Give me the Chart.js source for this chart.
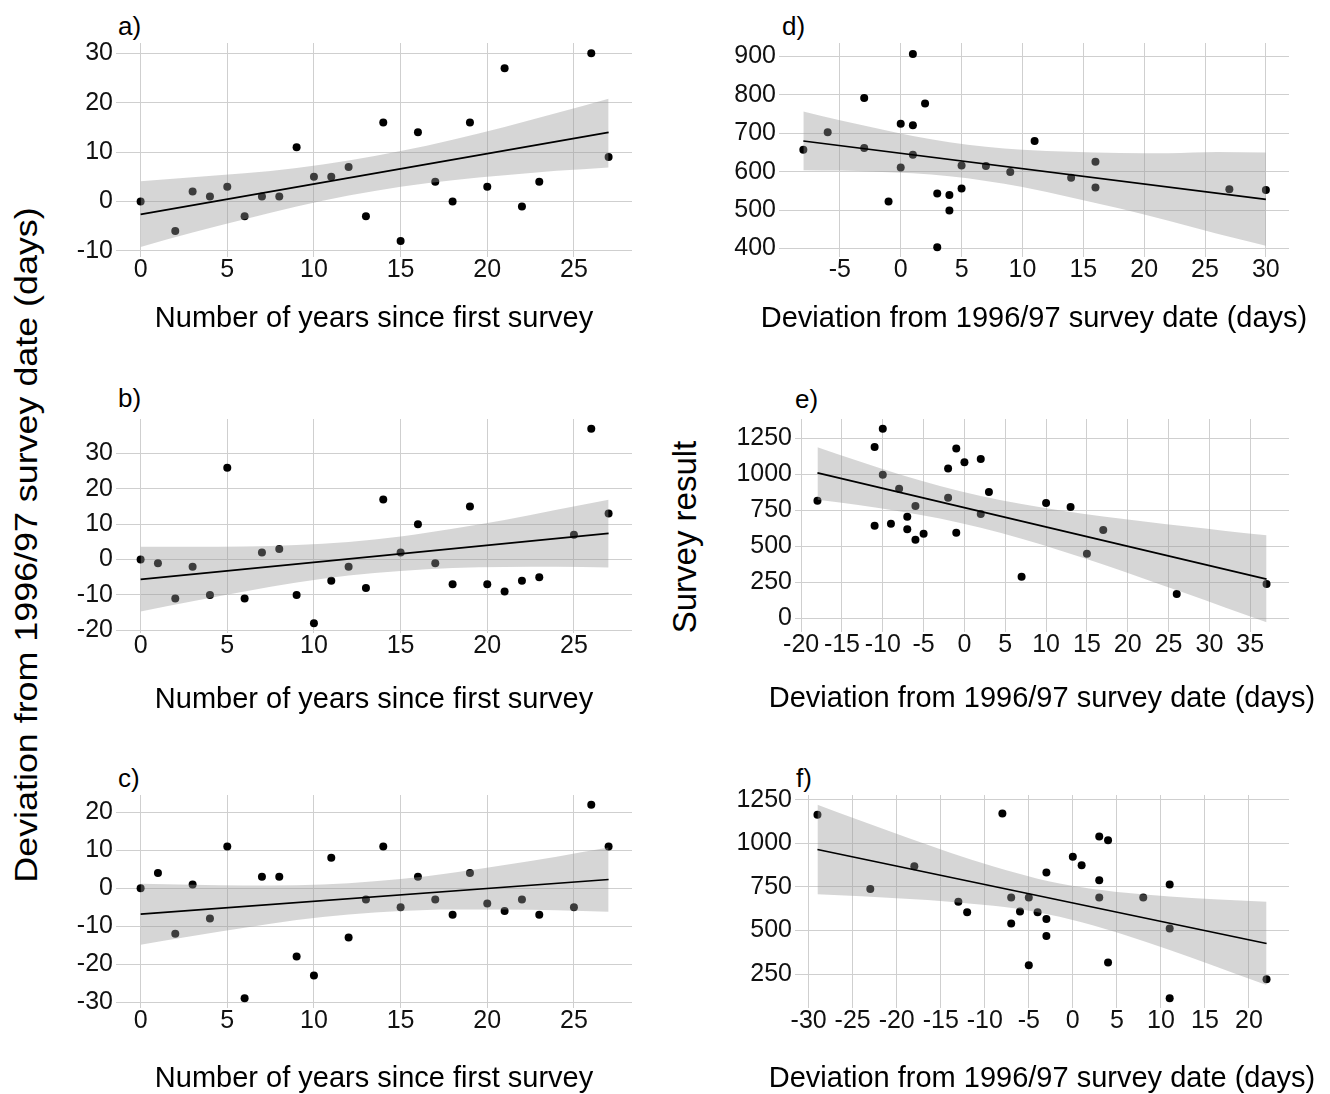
<!DOCTYPE html>
<html>
<head>
<meta charset="utf-8">
<script src="https://cdn.jsdelivr.net/npm/chart.js@4.4.1/dist/chart.umd.min.js"></script>
<style>
  body { margin: 0; background: #fff; }
  #fig { position: relative; width: 1330px; height: 1094px; overflow: hidden;
         font-family: "Liberation Sans", Arial, sans-serif; color: #000; }
  #fig canvas { position: absolute; }
  .lab { position: absolute; font-size: 26px; line-height: 26px; white-space: nowrap; }
  .ytitle { position: absolute; white-space: nowrap; text-align: center; }
</style>
</head>
<body>
<div id="fig">
  <div class="lab" style="left:118px; top:13px;">a)</div>
  <div class="lab" style="left:118px; top:385px;">b)</div>
  <div class="lab" style="left:118px; top:765px;">c)</div>
  <div class="lab" style="left:782px; top:13px;">d)</div>
  <div class="lab" style="left:795px; top:386px;">e)</div>
  <div class="lab" style="left:796px; top:765px;">f)</div>
  <div class="ytitle" style="font-size:32px; width:700px; height:40px; line-height:40px; left:-324px; top:525px; transform:rotate(-90deg) scaleX(1.12);">Deviation from 1996/97 survey date (days)</div>
  <div class="ytitle" style="font-size:33px; width:300px; height:40px; line-height:40px; left:535px; top:517px; transform:rotate(-90deg);">Survey result</div>
</div>
<script>
// a) years since first survey vs deviation (days)
const aYears = [0, 2, 3, 4, 5, 6, 7, 8, 9, 10, 11, 12, 13, 14, 15, 16, 17, 18, 19, 20, 21, 22, 23, 26, 27];
const aDev = [0, -6, 2, 1, 3, -3, 1, 1, 11, 5, 5, 7, -3, 16, -8, 14, 4, 0, 16, 3, 27, -1, 4, 30, 9];
const aBandX = [0, 3, 6, 9, 12, 15, 18, 21, 24, 27];
const aBandLow = [-9.2, -6.3, -3.6, -1.0, 1.2, 3.0, 4.3, 5.3, 6.2, 6.9];
const aBandHigh = [4.1, 4.9, 5.7, 6.8, 8.3, 10.2, 12.5, 15.1, 17.9, 20.8];
const aFitX = [0, 27];
const aFitY = [-2.6, 14.0];

// b)
const bYears = [0, 1, 2, 3, 4, 5, 6, 7, 8, 9, 10, 11, 12, 13, 14, 15, 16, 17, 18, 19, 20, 21, 22, 23, 25, 26, 27];
const bDev = [0, -1, -11, -2, -10, 26, -11, 2, 3, -10, -18, -6, -2, -8, 17, 2, 10, -1, -7, 15, -7, -9, -6, -5, 7, 37, 13];
const bBandX = [0, 3, 6, 9, 12, 15, 18, 21, 24, 27];
const bBandLow = [-14.7, -11.8, -9.0, -6.5, -4.5, -3.2, -2.4, -2.1, -2.0, -2.2];
const bBandHigh = [3.6, 3.6, 3.7, 4.1, 5.0, 6.5, 8.7, 11.2, 14.1, 16.9];
const bFitX = [0, 27];
const bFitY = [-5.6, 7.4];

// c)
const cYears = [0, 1, 2, 3, 4, 5, 6, 7, 8, 9, 10, 11, 12, 13, 14, 15, 16, 17, 18, 19, 20, 21, 22, 23, 25, 26, 27];
const cDev = [0, 4, -12, 1, -8, 11, -29, 3, 3, -18, -23, 8, -13, -3, 11, -5, 3, -3, -7, 4, -4, -6, -3, -7, -5, 22, 11];
const cBandX = [0, 3, 6, 9, 12, 15, 18, 21, 24, 27];
const cBandLow = [-14.9, -12.6, -10.4, -8.4, -6.9, -6.0, -5.6, -5.6, -5.8, -6.2];
const cBandHigh = [1.2, 0.9, 0.7, 0.8, 1.3, 2.4, 4.1, 6.1, 8.3, 10.7];
const cFitX = [0, 27];
const cFitY = [-6.8, 2.3];

// d) deviation from 1996/97 date vs survey result
const dDays = [-8, -6, -3, -3, -1, 0, 0, 1, 1, 1, 2, 3, 3, 4, 4, 5, 5, 7, 9, 11, 14, 16, 16, 27, 30];
const dResult = [657, 703, 792, 662, 522, 725, 611, 907, 721, 644, 778, 543, 403, 539, 499, 616, 556, 615, 599, 680, 584, 626, 559, 554, 552];
const dBandX = [-8, -5, -2, 1, 4, 7, 10, 14, 18, 22, 26, 30];
const dBandLow = [604, 603, 600, 596, 588, 576, 560, 533, 504, 472, 438, 407];
const dBandHigh = [757, 734, 713, 693, 677, 665, 657, 652, 649, 648, 651, 650];
const dFitX = [-8, 30];
const dFitY = [680, 528];

// e)
const eDays = [-18, -11, -11, -10, -10, -9, -8, -7, -7, -6, -6, -5, -2, -2, -1, -1, 0, 2, 2, 3, 7, 10, 13, 15, 17, 26, 37];
const eResult = [815, 1187, 641, 1315, 995, 655, 898, 704, 616, 778, 544, 586, 1039, 836, 1178, 593, 1081, 1104, 722, 875, 287, 799, 771, 447, 611, 167, 236];
const eBandX = [-18, -13, -8, -3, 2, 7, 12, 17, 22, 27, 32, 37];
const eBandLow = [822, 785, 742, 691, 627, 551, 464, 371, 273, 173, 72, -30];
const eBandHigh = [1185, 1090, 999, 917, 848, 791, 745, 705, 670, 637, 605, 574];
const eFitX = [-18, 37];
const eFitY = [1008, 270];

// f)
const fDays = [-29, -23, -18, -13, -12, -8, -7, -7, -6, -5, -5, -4, -3, -3, -3, 0, 1, 3, 3, 3, 4, 4, 8, 11, 11, 11, 22];
const fResult = [1164, 737, 868, 664, 605, 1170, 689, 540, 609, 689, 300, 605, 832, 565, 468, 922, 874, 1038, 788, 689, 1017, 317, 689, 763, 511, 111, 221];
const fBandX = [-29, -24, -19, -14, -9, -4, 1, 6, 11, 16, 22];
const fBandLow = [708, 696, 682, 665, 641, 604, 547, 473, 388, 298, 187];
const fBandHigh = [1221, 1127, 1036, 947, 866, 797, 748, 716, 695, 679, 664];
const fFitX = [-29, 22];
const fFitY = [964, 425];

// Tick labels
const yearTicks = [0, 5, 10, 15, 20, 25];
const aYTicks = [-10, 0, 10, 20, 30];
const bYTicks = [-20, -10, 0, 10, 20, 30];
const cYTicks = [-30, -20, -10, 0, 10, 20];
const dXTicks = [-5, 0, 5, 10, 15, 20, 25, 30];
const dYTicks = [400, 500, 600, 700, 800, 900];
const eXTicks = [-20, -15, -10, -5, 0, 5, 10, 15, 20, 25, 30, 35];
const eYTicks = [0, 250, 500, 750, 1000, 1250];
const fXTicks = [-30, -25, -20, -15, -10, -5, 0, 5, 10, 15, 20];
const fYTicks = [250, 500, 750, 1000, 1250];

const yearsTitle = "Number of years since first survey";
const daysTitle = "Deviation from 1996/97 survey date (days)";

const fontFamily = "'Liberation Sans', Arial, sans-serif";
Chart.defaults.font.family = fontFamily;
Chart.defaults.color = "#000";

const fig = document.querySelector("#fig");
const gridColor = "#cfcfcf";
const bandColor = "rgba(153,153,153,0.4)";
const yAxisW = 100;
const padTop = 8;

// x-axis title drawn centred under the plot, at full width (no squeezing)
const xTitlePlugin = {
  id: "xTitle",
  afterDraw(chart, args, opts) {
    const { ctx, chartArea } = chart;
    ctx.save();
    ctx.font = opts.size + "px " + fontFamily;
    ctx.fillStyle = "#000";
    ctx.textAlign = "center";
    ctx.textBaseline = "alphabetic";
    ctx.fillText(opts.text, (chartArea.left + chartArea.right) / 2, chartArea.bottom + opts.gap);
    ctx.restore();
  },
};

const toXY = (xs, ys) => xs.map((x, i) => ({ x: x, y: ys[i] }));
const plainTick = (v) => String(v);

// Build one panel; box is the plot area in page pixels
const makePanel = (p) => {
  const xAxisH = p.titleGap + 10;
  const canvas = document.createElement("canvas");
  const w = p.box.R - p.box.L + yAxisW + p.padRight;
  const h = p.box.B - p.box.T + padTop + xAxisH;
  canvas.width = w;
  canvas.height = h;
  canvas.style.left = (p.box.L - yAxisW) + "px";
  canvas.style.top = (p.box.T - padTop) + "px";
  canvas.style.width = w + "px";
  canvas.style.height = h + "px";
  fig.appendChild(canvas);

  new Chart(canvas, {
    type: "scatter",
    plugins: [xTitlePlugin],
    data: {
      datasets: [
        {
          data: toXY(p.fitX, p.fitY),
          showLine: true,
          borderColor: "#000",
          borderWidth: 1.7,
          pointRadius: 0,
          order: 0,
        },
        {
          data: toXY(p.bandX, p.bandHigh),
          showLine: true,
          borderColor: "rgba(0,0,0,0)",
          borderWidth: 0,
          pointRadius: 0,
          cubicInterpolationMode: "monotone",
          fill: "+1",
          backgroundColor: bandColor,
          order: 1,
        },
        {
          data: toXY(p.bandX, p.bandLow),
          showLine: true,
          borderColor: "rgba(0,0,0,0)",
          borderWidth: 0,
          pointRadius: 0,
          cubicInterpolationMode: "monotone",
          fill: false,
          order: 1,
        },
        {
          data: toXY(p.x, p.y),
          pointRadius: 4,
          pointBackgroundColor: "#000",
          pointBorderWidth: 0,
          order: 2,
        },
      ],
    },
    options: {
      responsive: false,
      animation: false,
      layout: { padding: { top: padTop, right: p.padRight, left: 0, bottom: 0 } },
      plugins: {
        legend: { display: false },
        tooltip: { enabled: false },
        xTitle: { text: p.xTitle, gap: p.titleGap, size: 29 },
      },
      scales: {
        x: {
          type: "linear",
          position: "bottom",
          min: p.xMin,
          max: p.xMax,
          afterBuildTicks: (s) => { s.ticks = p.xTicks.map((v) => ({ value: v })); },
          afterFit: (s) => { s.height = xAxisH; s.paddingLeft = 0; s.paddingRight = 0; },
          grid: { color: gridColor, lineWidth: 1, drawTicks: false },
          border: { display: false },
          ticks: { font: { size: 25, lineHeight: 1 }, color: "#111", padding: 1, maxRotation: 0, autoSkip: false, callback: plainTick },
        },
        y: {
          type: "linear",
          min: p.yMin,
          max: p.yMax,
          afterBuildTicks: (s) => { s.ticks = p.yTicks.map((v) => ({ value: v })); },
          afterFit: (s) => { s.width = yAxisW; s.paddingTop = 0; s.paddingBottom = 0; },
          grid: { color: gridColor, lineWidth: 1, drawTicks: false },
          border: { display: false },
          ticks: { font: { size: 25, lineHeight: 1 }, color: "#111", padding: 3, autoSkip: false, callback: plainTick },
        },
      },
    },
  });
};

makePanel({
  box: { L: 116, R: 632, T: 43, B: 257 }, titleGap: 70, padRight: 10,
  xMin: -1.42, xMax: 28.35, yMin: -11.25, yMax: 32.1,
  xTicks: yearTicks, yTicks: aYTicks, xTitle: yearsTitle,
  x: aYears, y: aDev, bandX: aBandX, bandLow: aBandLow, bandHigh: aBandHigh, fitX: aFitX, fitY: aFitY,
});
makePanel({
  box: { L: 116, R: 632, T: 419, B: 633 }, titleGap: 75, padRight: 10,
  xMin: -1.42, xMax: 28.35, yMin: -20.75, yMax: 39.75,
  xTicks: yearTicks, yTicks: bYTicks, xTitle: yearsTitle,
  x: bYears, y: bDev, bandX: bBandX, bandLow: bBandLow, bandHigh: bBandHigh, fitX: bFitX, fitY: bFitY,
});
makePanel({
  box: { L: 116, R: 632, T: 795, B: 1008 }, titleGap: 79, padRight: 10,
  xMin: -1.42, xMax: 28.35, yMin: -31.55, yMax: 24.55,
  xTicks: yearTicks, yTicks: cYTicks, xTitle: yearsTitle,
  x: cYears, y: cDev, bandX: cBandX, bandLow: cBandLow, bandHigh: cBandHigh, fitX: cFitX, fitY: cFitY,
});
makePanel({
  box: { L: 779, R: 1289, T: 43, B: 257 }, titleGap: 70, padRight: 34,
  xMin: -10, xMax: 31.9, yMin: 377.6, yMax: 935.4,
  xTicks: dXTicks, yTicks: dYTicks, xTitle: daysTitle,
  x: dDays, y: dResult, bandX: dBandX, bandLow: dBandLow, bandHigh: dBandHigh, fitX: dFitX, fitY: dFitY,
});
makePanel({
  box: { L: 795, R: 1289, T: 419, B: 632 }, titleGap: 75, padRight: 34,
  xMin: -20.75, xMax: 39.75, yMin: -97, yMax: 1382,
  xTicks: eXTicks, yTicks: eYTicks, xTitle: daysTitle,
  x: eDays, y: eResult, bandX: eBandX, bandLow: eBandLow, bandHigh: eBandHigh, fitX: eFitX, fitY: eFitY,
});
makePanel({
  box: { L: 795, R: 1289, T: 795, B: 1008 }, titleGap: 79, padRight: 34,
  xMin: -31.55, xMax: 24.55, yMin: 55.5, yMax: 1276.5,
  xTicks: fXTicks, yTicks: fYTicks, xTitle: daysTitle,
  x: fDays, y: fResult, bandX: fBandX, bandLow: fBandLow, bandHigh: fBandHigh, fitX: fFitX, fitY: fFitY,
});
</script>
</body>
</html>
